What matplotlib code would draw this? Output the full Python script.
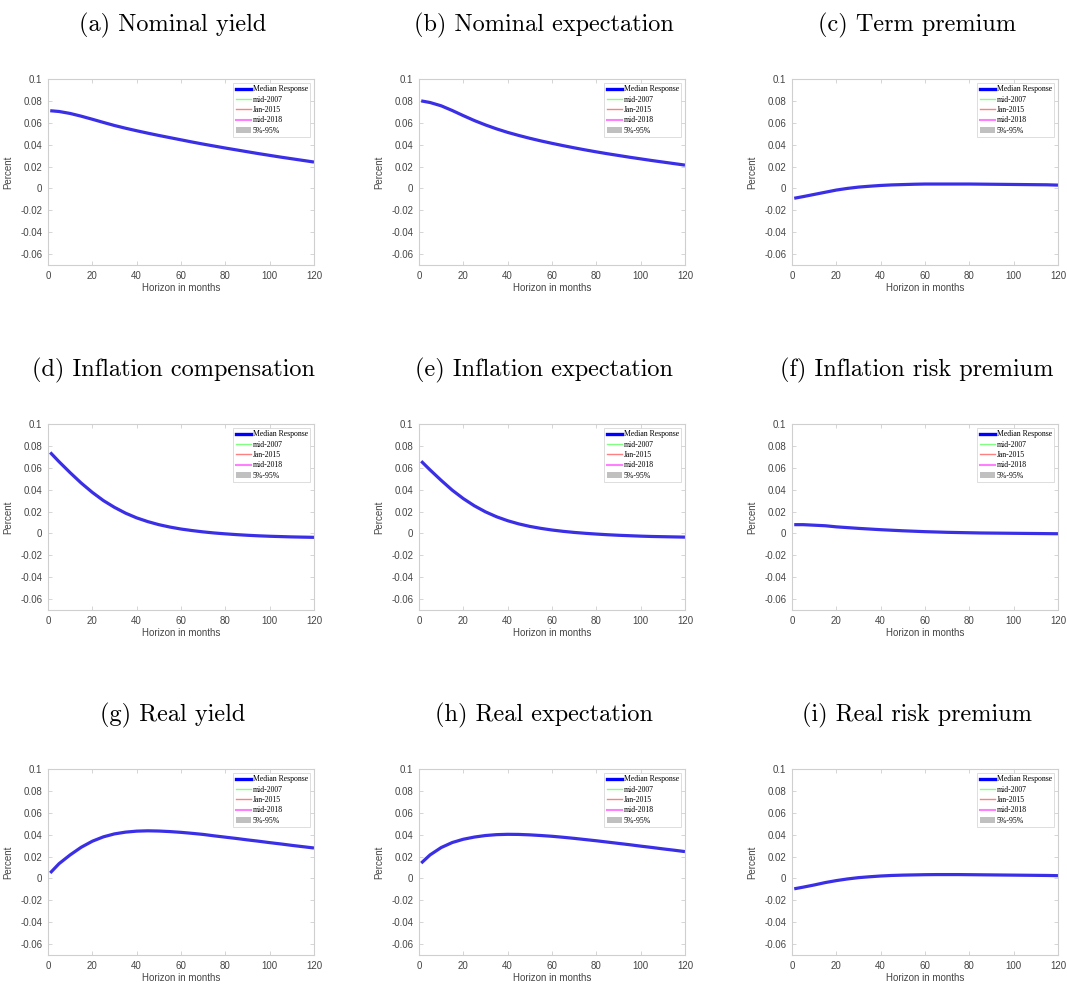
import matplotlib
matplotlib.use("Agg")
import matplotlib.pyplot as plt
from matplotlib.lines import Line2D
from matplotlib.patches import Patch

horizon = [1, 5, 10, 15, 20, 25, 30, 35, 40, 45, 50, 55, 60,
           65, 70, 75, 80, 85, 90, 95, 100, 105, 110, 115, 120]

nominal_yield = [0.071, 0.0703, 0.0685, 0.066, 0.0632, 0.0603, 0.0575, 0.055, 0.0527,
                 0.0505, 0.0484, 0.0464, 0.0444, 0.0424, 0.0405, 0.0387, 0.0369, 0.0352,
                 0.0335, 0.0318, 0.0302, 0.0286, 0.0271, 0.0256, 0.0241]
nominal_expect = [0.080, 0.0785, 0.0755, 0.0712, 0.0665, 0.062, 0.058, 0.0544, 0.0512,
                  0.0484, 0.0458, 0.0434, 0.0412, 0.0391, 0.0371, 0.0352, 0.0334, 0.0317,
                  0.0301, 0.0285, 0.027, 0.0255, 0.0241, 0.0227, 0.0213]
term_premium = [-0.009, -0.0075, -0.0055, -0.0035, -0.0015, 0.0, 0.0012, 0.002,
                0.0027, 0.0032, 0.0035, 0.0038, 0.004, 0.004, 0.004, 0.004, 0.004,
                0.0039, 0.0038, 0.0037, 0.0036, 0.0035, 0.0034, 0.0033, 0.003]
infl_comp = [0.074, 0.0655, 0.0555, 0.046, 0.0375, 0.030, 0.0238, 0.0185, 0.0142,
             0.0108, 0.008, 0.0058, 0.004, 0.0026, 0.0014, 0.0004, -0.0004, -0.0011,
             -0.0017, -0.0022, -0.0026, -0.0029, -0.0032, -0.0034, -0.0036]
infl_expect = [0.066, 0.058, 0.0485, 0.0395, 0.0318, 0.0252, 0.0197, 0.0152, 0.0116,
               0.0087, 0.0064, 0.0046, 0.0031, 0.0019, 0.0009, 0.0001, -0.0006, -0.0012,
               -0.0017, -0.0021, -0.0025, -0.0028, -0.003, -0.0032, -0.0034]
infl_premium = [0.008, 0.008, 0.0075, 0.007, 0.006, 0.0053, 0.0046, 0.004, 0.0034,
                0.0029, 0.0024, 0.002, 0.0016, 0.0013, 0.001, 0.0008, 0.0006, 0.0004,
                0.0003, 0.0002, 0.0001, 0.0, -0.0001, -0.0002, -0.0003]
real_yield = [0.005, 0.0135, 0.0215, 0.0285, 0.034, 0.038, 0.0407, 0.0423, 0.0432,
              0.0435, 0.0433, 0.0428, 0.0421, 0.0412, 0.0402, 0.0389, 0.0377, 0.0365,
              0.0352, 0.034, 0.0327, 0.0315, 0.0302, 0.029, 0.0278]
real_expect = [0.014, 0.0215, 0.0282, 0.0328, 0.0358, 0.0378, 0.0392, 0.040, 0.0403,
               0.0402, 0.0398, 0.0392, 0.0385, 0.0376, 0.0366, 0.0355, 0.0344, 0.0332,
               0.032, 0.0308, 0.0295, 0.0283, 0.027, 0.0258, 0.0245]
real_premium = [-0.0095, -0.008, -0.006, -0.0038, -0.002, -0.0005, 0.0007, 0.0015,
                0.0022, 0.0027, 0.003, 0.0032, 0.0034, 0.0035, 0.0035, 0.0035, 0.0034,
                0.0033, 0.0032, 0.0031, 0.003, 0.0029, 0.0028, 0.0027, 0.0025]

titles = ["(a) Nominal yield", "(b) Nominal expectation", "(c) Term premium",
          "(d) Inflation compensation", "(e) Inflation expectation",
          "(f) Inflation risk premium",
          "(g) Real yield", "(h) Real expectation", "(i) Real risk premium"]
series = [nominal_yield, nominal_expect, term_premium,
          infl_comp, infl_expect, infl_premium,
          real_yield, real_expect, real_premium]

legend_labels = ["Median Response", "mid-2007", "Jan-2015", "mid-2018", "5%-95%"]
yticks = [-0.06, -0.04, -0.02, 0, 0.02, 0.04, 0.06, 0.08, 0.1]
xticks = [0, 20, 40, 60, 80, 100, 120]

plt.rcParams["axes.unicode_minus"] = False
plt.rcParams["font.family"] = ["Liberation Sans", "DejaVu Sans"]

W, H = 1067, 985
fig = plt.figure(figsize=(W / 100, H / 100), dpi=100)

col_left = [48, 419, 792]
row_top = [79, 424, 769]
ax_w, ax_h = 266, 186
grey = "#cfcfcf"
text_grey = "#454545"

for i, (title, values) in enumerate(zip(titles, series)):
    r, c = divmod(i, 3)
    left = col_left[c] / W
    bottom = 1 - (row_top[r] + ax_h) / H
    ax = fig.add_axes([left, bottom, ax_w / W, ax_h / H])

    ax.plot(horizon, values, color="#3a2fe6", lw=2.3, solid_capstyle="butt",
            solid_joinstyle="round")

    ax.set_xlim(0, 120)
    ax.set_ylim(-0.07, 0.1)
    ax.set_xticks(xticks)
    ax.set_yticks(yticks)
    ax.set_yticklabels(["%g" % t for t in yticks])
    ax.tick_params(direction="in", length=3, width=0.6, color=grey,
                   labelsize=7, labelcolor=text_grey, top=True, right=True, pad=4)
    for sp in ax.spines.values():
        sp.set_color(grey)
        sp.set_linewidth(0.8)
    ax.set_xlabel("Horizon in months", fontsize=7, color=text_grey, labelpad=2)
    ax.set_ylabel("Percent", fontsize=7, color=text_grey, labelpad=5)

    handles = [Line2D([], [], color="blue", lw=2.4),
               Line2D([], [], color="#80ff80", lw=1),
               Line2D([], [], color="#ff8080", lw=1),
               Line2D([], [], color="#ff80ff", lw=1.5),
               Patch(facecolor="#c0c0c0", edgecolor="none")]
    leg = ax.legend(handles, legend_labels, loc="upper right",
                    prop={"family": "Liberation Serif", "size": 5.6},
                    frameon=True, fancybox=False, handlelength=2.0,
                    handletextpad=0.2, labelspacing=0.3, borderpad=0.3,
                    borderaxespad=0.5)
    leg.get_frame().set_edgecolor(grey)
    leg.get_frame().set_linewidth(0.6)

    cx = (col_left[c] + ax_w / 2 - 8) / W
    cy = 1 - (row_top[r] - 54) / H
    fig.text(cx, cy, title, ha="center", va="center", fontsize=17.5,
             family="cmr10")

fig.savefig("out.png", dpi=100)
